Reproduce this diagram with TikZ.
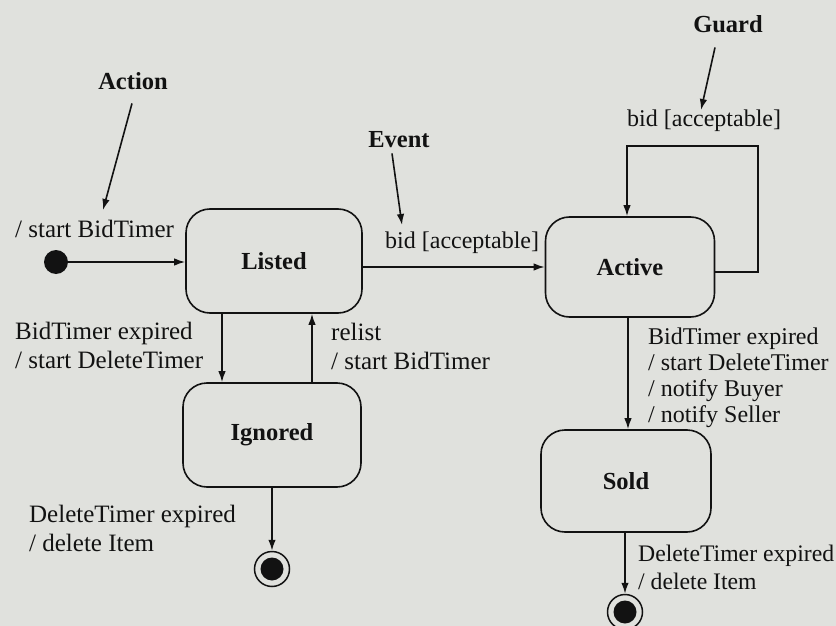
\documentclass[tikz,border=0pt]{standalone}
\usepackage{fontspec}
\setmainfont{Liberation Serif}
\usetikzlibrary{arrows.meta}

\definecolor{paper}{RGB}{224,225,221}
\definecolor{ink}{RGB}{18,18,18}

\tikzset{
  arr/.style={ink, line width=1.6pt, -{Latex[length=11pt,width=7.5pt]}},
  statebox/.style={draw=ink, line width=1.6pt, rounded corners=24pt,
    inner sep=0pt, font=\fontsize{24.5}{29}\bfseries\selectfont, text=ink},
  tag/.style={inner sep=0pt, font=\fontsize{24.5}{29}\bfseries\selectfont, text=ink},
  lbl/.style={inner sep=0pt, align=left, text=ink,
    font=\fontsize{24}{29}\selectfont},
  biglbl/.style={lbl, font=\fontsize{25}{29}\selectfont},
  initdot/.style={circle, fill=ink, minimum size=24pt, inner sep=0pt},
  finaldot/.style={circle, draw=ink, line width=1.5pt, minimum size=35pt,
    inner sep=0pt,
    path picture={\fill[ink] (path picture bounding box.center) circle (11.5pt);}},
}

\begin{document}
\begin{tikzpicture}[x=1pt, y=-1pt]
  \fill[paper] (0,0) rectangle (836,626);
  \useasboundingbox (0,0) rectangle (836,626);

  % states
  \node[statebox, minimum width=176pt, minimum height=104pt] (Listed)  at (274,261) {Listed};
  \node[statebox, minimum width=169pt, minimum height=100pt] (Active)  at (630,267) {Active};
  \node[statebox, minimum width=178pt, minimum height=104pt] (Ignored) at (272,435) {Ignored};
  \node[statebox, minimum width=170pt, minimum height=102pt] (Sold)    at (626,481) {Sold};

  % pseudo states
  \node[initdot]  (init) at (56,262) {};
  \node[finaldot] (fin1) at (272,569) {};
  \node[finaldot] (fin2) at (625,612) {};

  % helper coordinates for the connector positions
  \coordinate (downX) at (222,0);
  \coordinate (upX)   at (312,0);
  \coordinate (bidY)  at (0,267);
  \coordinate (loopOut) at (0,272);
  \coordinate (loopCorner) at (758,146);
  \coordinate (loopIn) at (627,0);
  \coordinate (soldX) at (628,0);

  % transitions
  \draw[arr] (init) -- (init -| Listed.west);
  \draw[arr] (Listed.east |- bidY) -- (Active.west |- bidY);
  \draw[arr] (Active.east |- loopOut) -| (loopCorner) -| (Active.north -| loopIn);
  \draw[arr] (Listed.south -| downX) -- (Ignored.north -| downX);
  \draw[arr] (Ignored.north -| upX) -- (Listed.south -| upX);
  \draw[arr] (Ignored.south -| fin1) -- (fin1.north);
  \draw[arr] (Active.south -| soldX) -- (Sold.north -| soldX);
  \draw[arr] (Sold.south -| fin2) -- (fin2.north);

  % transition labels
  \node[biglbl, anchor=base west] (lStart) at (15,237) {/ start BidTimer};
  \node[lbl, anchor=base west] (lBid) at (385,248) {bid [acceptable]};
  \node[lbl, anchor=base west] (lLoop) at (627,127) {bid [acceptable]};
  \node[biglbl, anchor=north west] (lExp) at (15,322) {BidTimer expired\\/ start DeleteTimer};
  \node[biglbl, anchor=north west] (lRelist) at (331,323) {relist\\/ start BidTimer};
  \node[biglbl, anchor=north west] (lDel1) at (29,505) {DeleteTimer expired\\/ delete Item};
  \node[lbl, anchor=north west, font=\fontsize{24}{26}\selectfont] (lSold) at (648,328)
    {BidTimer expired\\/ start DeleteTimer\\/ notify Buyer\\/ notify Seller};
  \node[lbl, anchor=north west, font=\fontsize{23.7}{28}\selectfont] (lDel2) at (638,545)
    {DeleteTimer expired\\/ delete Item};

  % annotation tags with pointers
  \node[tag, anchor=base] (Action) at (133,90) {Action};
  \node[tag, anchor=base] (Event)  at (399,147) {Event};
  \node[tag, anchor=base] (Guard)  at (728,33) {Guard};

  \coordinate (actTip) at (103,210);
  \coordinate (evTip)  at (402,225);
  \coordinate (guTip)  at (701,110);
  \draw[arr] ([xshift=-1pt,yshift=-13pt]Action.south) -- (actTip);
  \draw[arr] ([xshift=-7pt,yshift=-6pt]Event.south) -- (evTip);
  \draw[arr] ([xshift=-13pt,yshift=-14pt]Guard.south) -- (guTip);
\end{tikzpicture}
\end{document}
